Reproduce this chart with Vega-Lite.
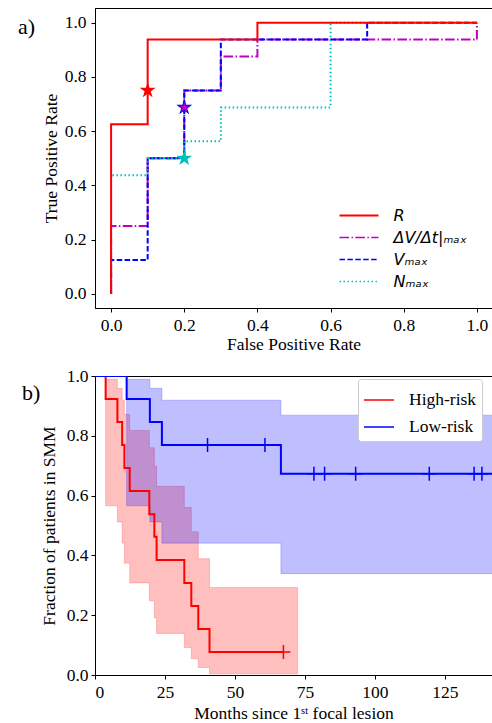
{
  "$schema": "https://vega.github.io/schema/vega-lite/v6.json",
  "padding": {"left": 17, "top": 7, "right": 0, "bottom": 0},
  "spacing": 12,
  "config": {
    "view": {"stroke": "#000", "strokeWidth": 1},
    "font": "Liberation Serif",
    "axis": {
      "labelFont": "Liberation Serif", "labelFontSize": 17.5, "labelColor": "#000",
      "titleFont": "Liberation Serif", "titleFontSize": 17.5, "titleFontWeight": "normal", "titleColor": "#000",
      "domainColor": "#000", "tickColor": "#000", "tickSize": 4, "grid": false, "domainWidth": 1, "tickWidth": 1
    }
  },
  "resolve": {"scale": {"color": "independent", "fill": "independent", "stroke": "independent", "strokeDash": "independent"}, "legend": {"color": "independent"}},
  "vconcat": [
    {
      "width": 397,
      "height": 300,
      "title": {"text": "a)", "anchor": "start", "frame": "group", "orient": "top", "offset": 0, "dx": -77, "dy": 48, "baseline": "alphabetic", "fontSize": 22, "font": "Liberation Serif", "fontWeight": "normal", "color": "#000"},
      "layer": [
        {
          "data": {"values": [
            {"model": "ΔV/Δt|ₘₐₓ", "k": 0, "fpr": 0.0, "tpr": 0.0},
            {"model": "ΔV/Δt|ₘₐₓ", "k": 1, "fpr": 0.0, "tpr": 0.25},
            {"model": "ΔV/Δt|ₘₐₓ", "k": 2, "fpr": 0.1, "tpr": 0.25},
            {"model": "ΔV/Δt|ₘₐₓ", "k": 3, "fpr": 0.1, "tpr": 0.5},
            {"model": "ΔV/Δt|ₘₐₓ", "k": 4, "fpr": 0.2, "tpr": 0.5},
            {"model": "ΔV/Δt|ₘₐₓ", "k": 5, "fpr": 0.2, "tpr": 0.75},
            {"model": "ΔV/Δt|ₘₐₓ", "k": 6, "fpr": 0.3, "tpr": 0.75},
            {"model": "ΔV/Δt|ₘₐₓ", "k": 7, "fpr": 0.3, "tpr": 0.875},
            {"model": "ΔV/Δt|ₘₐₓ", "k": 8, "fpr": 0.4, "tpr": 0.875},
            {"model": "ΔV/Δt|ₘₐₓ", "k": 9, "fpr": 0.4, "tpr": 0.9375},
            {"model": "ΔV/Δt|ₘₐₓ", "k": 10, "fpr": 1.0, "tpr": 0.9375},
            {"model": "ΔV/Δt|ₘₐₓ", "k": 11, "fpr": 1.0, "tpr": 1.0},
            {"model": "Vₘₐₓ", "k": 0, "fpr": 0.0, "tpr": 0.0},
            {"model": "Vₘₐₓ", "k": 1, "fpr": 0.0, "tpr": 0.125},
            {"model": "Vₘₐₓ", "k": 2, "fpr": 0.1, "tpr": 0.125},
            {"model": "Vₘₐₓ", "k": 3, "fpr": 0.1, "tpr": 0.5},
            {"model": "Vₘₐₓ", "k": 4, "fpr": 0.2, "tpr": 0.5},
            {"model": "Vₘₐₓ", "k": 5, "fpr": 0.2, "tpr": 0.75},
            {"model": "Vₘₐₓ", "k": 6, "fpr": 0.3, "tpr": 0.75},
            {"model": "Vₘₐₓ", "k": 7, "fpr": 0.3, "tpr": 0.9375},
            {"model": "Vₘₐₓ", "k": 8, "fpr": 0.7, "tpr": 0.9375},
            {"model": "Vₘₐₓ", "k": 9, "fpr": 0.7, "tpr": 1.0},
            {"model": "Vₘₐₓ", "k": 10, "fpr": 1.0, "tpr": 1.0},
            {"model": "Nₘₐₓ", "k": 0, "fpr": 0.0, "tpr": 0.0},
            {"model": "Nₘₐₓ", "k": 1, "fpr": 0.0, "tpr": 0.4375},
            {"model": "Nₘₐₓ", "k": 2, "fpr": 0.1, "tpr": 0.4375},
            {"model": "Nₘₐₓ", "k": 3, "fpr": 0.1, "tpr": 0.5},
            {"model": "Nₘₐₓ", "k": 4, "fpr": 0.2, "tpr": 0.5},
            {"model": "Nₘₐₓ", "k": 5, "fpr": 0.2, "tpr": 0.5625},
            {"model": "Nₘₐₓ", "k": 6, "fpr": 0.3, "tpr": 0.5625},
            {"model": "Nₘₐₓ", "k": 7, "fpr": 0.3, "tpr": 0.6875},
            {"model": "Nₘₐₓ", "k": 8, "fpr": 0.6, "tpr": 0.6875},
            {"model": "Nₘₐₓ", "k": 9, "fpr": 0.6, "tpr": 1.0},
            {"model": "Nₘₐₓ", "k": 10, "fpr": 1.0, "tpr": 1.0},
            {"model": "R", "k": 0, "fpr": 0.0, "tpr": 0.0},
            {"model": "R", "k": 1, "fpr": 0.0, "tpr": 0.625},
            {"model": "R", "k": 2, "fpr": 0.1, "tpr": 0.625},
            {"model": "R", "k": 3, "fpr": 0.1, "tpr": 0.9375},
            {"model": "R", "k": 4, "fpr": 0.4, "tpr": 0.9375},
            {"model": "R", "k": 5, "fpr": 0.4, "tpr": 1.0},
            {"model": "R", "k": 6, "fpr": 1.0, "tpr": 1.0}
          ]},
          "mark": {"type": "line", "clip": true},
          "encoding": {
            "x": {"field": "fpr", "type": "quantitative", "scale": {"domain": [-0.044, 1.0413], "nice": false, "zero": false},
                  "axis": {"values": [0, 0.2, 0.4, 0.6, 0.8, 1.0], "format": ".1f", "title": "False Positive Rate", "labelFont": "Liberation Serif", "titleFont": "Liberation Serif", "labelPadding": 4, "titlePadding": 2}},
            "y": {"field": "tpr", "type": "quantitative", "scale": {"domain": [-0.052, 1.054], "nice": false, "zero": false},
                  "axis": {"values": [0, 0.2, 0.4, 0.6, 0.8, 1.0], "format": ".1f", "title": "True Positive Rate", "labelFont": "Liberation Serif", "titleFont": "Liberation Serif", "labelPadding": 5, "titlePadding": 4}},
            "order": {"field": "k", "type": "quantitative"},
            "color": {"field": "model", "type": "nominal",
                      "scale": {"domain": ["R", "ΔV/Δt|ₘₐₓ", "Vₘₐₓ", "Nₘₐₓ"], "range": ["#ff0000", "#bf00bf", "#0000ff", "#00bfbf"]},
                      "legend": {"title": null, "orient": "none", "legendX": 256, "legendY": 199.5, "symbolType": "M-3.25,0H3.25", "symbolSize": 144, "symbolStrokeWidth": 1.6,
                                 "labelFont": "DejaVu Sans", "labelFontStyle": "italic", "labelFontSize": 16, "labelColor": "#000", "labelOffset": 26.5, "padding": 0, "rowPadding": 6,
                                 "encode": {"symbols": {"update": {
                                   "strokeDash": {"signal": "datum.value === 'R' ? [1, 0] : datum.value === 'Vₘₐₓ' ? [5.5, 2.4] : datum.value === 'Nₘₐₓ' ? [1.5, 2.5] : [9.6, 2.4, 1.5, 2.4]"},
                                   "strokeWidth": {"signal": "datum.value === 'R' ? 2.2 : 1.6"}
                                 }}}}},
            "strokeDash": {"field": "model", "type": "nominal", "legend": null,
                           "scale": {"domain": ["R", "ΔV/Δt|ₘₐₓ", "Vₘₐₓ", "Nₘₐₓ"], "range": [[1, 0], [9.6, 2.4, 1.5, 2.4], [5.5, 2.4], [1.5, 2.5]]}}
          }
        },
        {
          "data": {"values": [
            {"model": "R", "fpr": 0.1, "tpr": 0.75},
            {"model": "Vₘₐₓ", "fpr": 0.2, "tpr": 0.6875},
            {"model": "Nₘₐₓ", "fpr": 0.2, "tpr": 0.5}
          ]},
          "mark": {"type": "point", "shape": "M0,-1L0.2245,-0.309L0.951,-0.309L0.363,0.118L0.588,0.809L0,0.382L-0.588,0.809L-0.363,0.118L-0.951,-0.309L-0.2245,-0.309Z", "filled": true, "size": 280, "opacity": 1},
          "encoding": {
            "x": {"field": "fpr", "type": "quantitative"},
            "y": {"field": "tpr", "type": "quantitative"},
            "fill": {"field": "model", "type": "nominal", "legend": null,
                     "scale": {"domain": ["R", "ΔV/Δt|ₘₐₓ", "Vₘₐₓ", "Nₘₐₓ"], "range": ["#ff0000", "#bf00bf", "#0000ff", "#00bfbf"]}}
          }
        },
        {
          "data": {"values": [
            {"model": "ΔV/Δt|ₘₐₓ", "fpr": 0.2, "tpr": 0.6875}
          ]},
          "mark": {"type": "point", "shape": "M0,-1L0.2245,-0.309L0.951,-0.309L0.363,0.118L0.588,0.809L0,0.382L-0.588,0.809L-0.363,0.118L-0.951,-0.309L-0.2245,-0.309Z", "filled": true, "size": 120, "opacity": 1},
          "encoding": {
            "x": {"field": "fpr", "type": "quantitative"},
            "y": {"field": "tpr", "type": "quantitative"},
            "fill": {"field": "model", "type": "nominal", "legend": null,
                     "scale": {"domain": ["R", "ΔV/Δt|ₘₐₓ", "Vₘₐₓ", "Nₘₐₓ"], "range": ["#ff0000", "#bf00bf", "#0000ff", "#00bfbf"]}}
          }
        }
      ]
    },
    {
      "width": 397,
      "height": 299,
      "title": {"text": "b)", "anchor": "start", "frame": "group", "orient": "top", "offset": 0, "dx": -73, "dy": 55, "baseline": "alphabetic", "fontSize": 22, "font": "Liberation Serif", "fontWeight": "normal", "color": "#000"},
      "layer": [
        {
          "data": {"values": [
            {"group": "High-risk", "t": 0, "lo": 1.0, "hi": 1.0},
            {"group": "High-risk", "t": 3.8, "lo": 0.566, "hi": 0.989},
            {"group": "High-risk", "t": 8.0, "lo": 0.512, "hi": 0.959},
            {"group": "High-risk", "t": 9.7, "lo": 0.441, "hi": 0.919},
            {"group": "High-risk", "t": 10.5, "lo": 0.374, "hi": 0.872},
            {"group": "High-risk", "t": 12.4, "lo": 0.308, "hi": 0.818},
            {"group": "High-risk", "t": 19.4, "lo": 0.248, "hi": 0.760},
            {"group": "High-risk", "t": 21.2, "lo": 0.191, "hi": 0.698},
            {"group": "High-risk", "t": 22.0, "lo": 0.139, "hi": 0.631},
            {"group": "High-risk", "t": 31.9, "lo": 0.092, "hi": 0.560},
            {"group": "High-risk", "t": 34.4, "lo": 0.054, "hi": 0.479},
            {"group": "High-risk", "t": 36.9, "lo": 0.025, "hi": 0.389},
            {"group": "High-risk", "t": 40.9, "lo": 0.004, "hi": 0.293},
            {"group": "High-risk", "t": 72.4, "lo": 0.004, "hi": 0.293},
            {"group": "Low-risk", "t": 0, "lo": 1.0, "hi": 1.0},
            {"group": "Low-risk", "t": 11.3, "lo": 0.566, "hi": 0.989},
            {"group": "Low-risk", "t": 19.6, "lo": 0.512, "hi": 0.959},
            {"group": "Low-risk", "t": 23.9, "lo": 0.441, "hi": 0.919},
            {"group": "Low-risk", "t": 66.4, "lo": 0.339, "hi": 0.869},
            {"group": "Low-risk", "t": 143, "lo": 0.339, "hi": 0.869}
          ]},
          "mark": {"type": "area", "interpolate": "step-after", "fillOpacity": 0.25, "strokeOpacity": 0.2, "strokeWidth": 1, "clip": true},
          "encoding": {
            "x": {"field": "t", "type": "quantitative", "scale": {"domain": [0, 141.8], "nice": false, "zero": false},
                  "axis": {"values": [0, 25, 50, 75, 100, 125], "format": "d", "title": "Months since 1ˢᵗ focal lesion", "labelFont": "Liberation Serif", "titleFont": "Liberation Serif", "labelPadding": 4, "titlePadding": 3.5}},
            "y": {"field": "lo", "type": "quantitative", "scale": {"domain": [0, 1], "nice": false},
                  "axis": {"values": [0, 0.2, 0.4, 0.6, 0.8, 1.0], "format": ".1f", "title": "Fraction of patients in SMM", "labelFont": "Liberation Serif", "titleFont": "Liberation Serif", "labelPadding": 3, "titlePadding": 8}},
            "y2": {"field": "hi"},
            "fill": {"field": "group", "type": "nominal", "legend": null, "scale": {"range": ["#ff0000", "#0000ff"]}},
            "stroke": {"field": "group", "type": "nominal", "legend": null, "scale": {"range": ["#ff0000", "#0000ff"]}}
          }
        },
        {
          "data": {"values": [
            {"group": "High-risk", "t": 0, "s": 1.0},
            {"group": "High-risk", "t": 3.8, "s": 0.923},
            {"group": "High-risk", "t": 8.0, "s": 0.846},
            {"group": "High-risk", "t": 9.7, "s": 0.769},
            {"group": "High-risk", "t": 10.5, "s": 0.692},
            {"group": "High-risk", "t": 12.4, "s": 0.615},
            {"group": "High-risk", "t": 19.4, "s": 0.538},
            {"group": "High-risk", "t": 21.2, "s": 0.462},
            {"group": "High-risk", "t": 22.0, "s": 0.385},
            {"group": "High-risk", "t": 31.9, "s": 0.308},
            {"group": "High-risk", "t": 34.4, "s": 0.231},
            {"group": "High-risk", "t": 36.9, "s": 0.154},
            {"group": "High-risk", "t": 40.9, "s": 0.077},
            {"group": "High-risk", "t": 67.3, "s": 0.077},
            {"group": "Low-risk", "t": 0, "s": 1.0},
            {"group": "Low-risk", "t": 11.3, "s": 0.923},
            {"group": "Low-risk", "t": 19.6, "s": 0.846},
            {"group": "Low-risk", "t": 23.9, "s": 0.769},
            {"group": "Low-risk", "t": 66.4, "s": 0.673},
            {"group": "Low-risk", "t": 143, "s": 0.673}
          ]},
          "mark": {"type": "line", "interpolate": "step-after", "strokeWidth": 2, "clip": true},
          "encoding": {
            "x": {"field": "t", "type": "quantitative"},
            "y": {"field": "s", "type": "quantitative"},
            "color": {"field": "group", "type": "nominal",
                      "scale": {"domain": ["High-risk", "Low-risk"], "range": ["#ff0000", "#0000ff"]},
                      "legend": {"title": null, "orient": "none", "legendX": 263, "legendY": 3, "symbolType": "stroke", "symbolSize": 900, "symbolStrokeWidth": 1.5,
                                 "labelFont": "Liberation Serif", "labelFontSize": 17.5, "labelColor": "#000", "labelOffset": 14,
                                 "strokeColor": "#cccccc", "fillColor": "#ffffff", "cornerRadius": 3, "padding": 5, "rowPadding": 2}}
          }
        },
        {
          "data": {"values": [
            {"group": "High-risk", "t": 67.3, "s": 0.077},
            {"group": "Low-risk", "t": 40.2, "s": 0.769},
            {"group": "Low-risk", "t": 60.7, "s": 0.769},
            {"group": "Low-risk", "t": 78.2, "s": 0.673},
            {"group": "Low-risk", "t": 82.0, "s": 0.673},
            {"group": "Low-risk", "t": 93.1, "s": 0.673},
            {"group": "Low-risk", "t": 119.4, "s": 0.673},
            {"group": "Low-risk", "t": 135.4, "s": 0.673},
            {"group": "Low-risk", "t": 138.2, "s": 0.673}
          ]},
          "mark": {"type": "point", "shape": "M0,-1V1M-1,0H1", "filled": false, "size": 196, "strokeWidth": 1.5, "opacity": 1, "clip": true},
          "encoding": {
            "x": {"field": "t", "type": "quantitative"},
            "y": {"field": "s", "type": "quantitative"},
            "stroke": {"field": "group", "type": "nominal", "legend": null, "scale": {"range": ["#ff0000", "#0000ff"]}}
          }
        }
      ]
    }
  ]
}
